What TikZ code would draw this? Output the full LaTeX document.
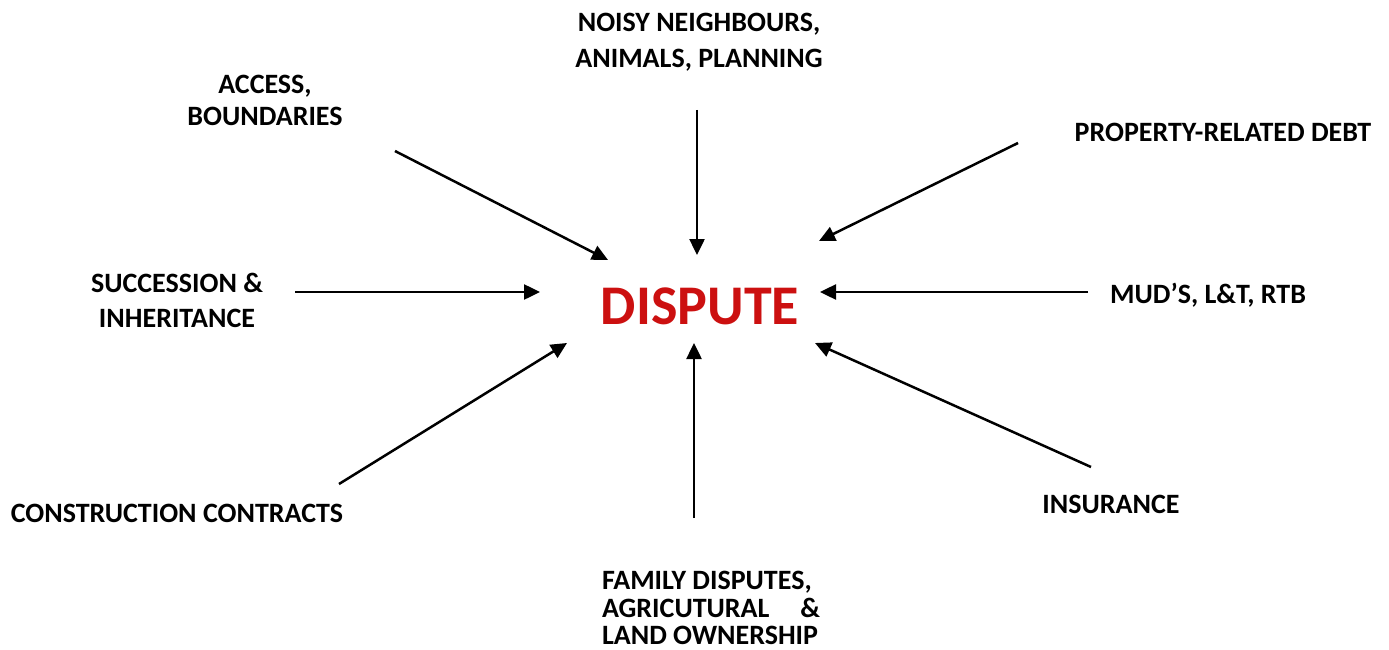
\documentclass[tikz,border=0pt]{standalone}
\usepackage{fontspec}
\setmainfont{Carlito}
\usetikzlibrary{arrows.meta}
\definecolor{disputered}{RGB}{204,16,16}
\tikzset{
  lbl/.style={font=\bfseries\fontsize{28}{32}\selectfont, align=center, inner sep=0pt},
  conn/.style={line width=2.5pt, -{Triangle[length=16pt,width=15pt]}},
}
\newcommand{\jline}[1]{\hbox to 218pt{#1}}
\begin{document}
\begin{tikzpicture}[x=1pt,y=-1pt]
\useasboundingbox (0,0) rectangle (1389,650);
% labels
\node[lbl, font=\bfseries\fontsize{28}{32}\selectfont] (access) at (265,100) {ACCESS,\\BOUNDARIES};
\node[lbl, font=\bfseries\fontsize{28}{36}\selectfont] (noisy) at (699,42) {NOISY NEIGHBOURS,\\ANIMALS, PLANNING};
\node[lbl] (debt) at (1223,132) {PROPERTY-RELATED DEBT};
\node[lbl, font=\bfseries\fontsize{28}{35}\selectfont] (succ) at (177,300) {SUCCESSION \&\\INHERITANCE};
\node[lbl] (mud) at (1208,295) {MUD’S, L\&T, RTB};
\node[lbl] (constr) at (177,513) {CONSTRUCTION CONTRACTS};
\node[lbl] (insur) at (1111,504) {INSURANCE};
\node[lbl, font=\bfseries\fontsize{28}{27.5}\selectfont, align=left, text depth=0pt, anchor=south] (family) at (711,645)
  {\jline{FAMILY DISPUTES,\hfill}\\\jline{AGRICUTURAL\hfill\&}\\\jline{LAND OWNERSHIP\hfill}};
\node[inner sep=0pt, text=disputered, font=\bfseries\fontsize{56}{60}\selectfont] (dispute) at (700,306) {DISPUTE};
% arrow ends
\coordinate (a1) at (395,151); \coordinate (b1) at (608,260);
\coordinate (a2) at (697,110); \coordinate (b2) at (697,255);
\coordinate (a3) at (1018,143); \coordinate (b3) at (819,241);
\coordinate (a4) at (295,292); \coordinate (b4) at (540,292);
\coordinate (a5) at (1088,292); \coordinate (b5) at (820,292);
\coordinate (a6) at (339,484); \coordinate (b6) at (567,343);
\coordinate (a7) at (1091,467); \coordinate (b7) at (815,343);
\coordinate (a8) at (694,518); \coordinate (b8) at (694,343);
\foreach \i in {1,...,8} { \draw[conn] (a\i) -- (b\i); }
\end{tikzpicture}
\end{document}
